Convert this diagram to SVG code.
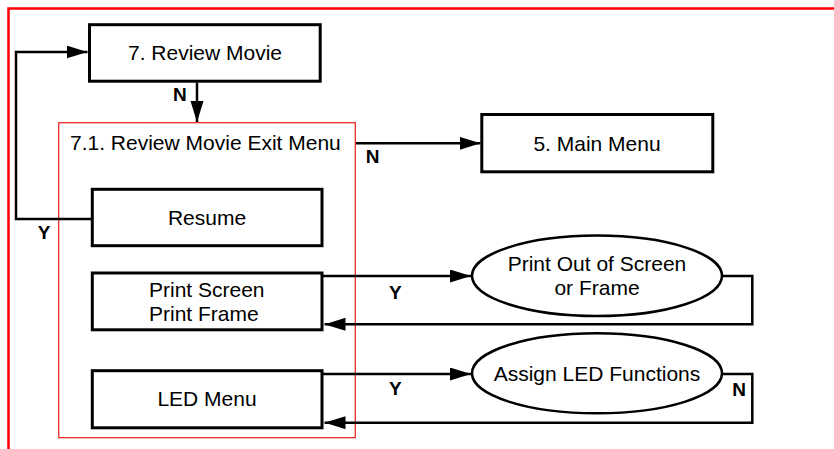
<svg xmlns="http://www.w3.org/2000/svg" width="834" height="449" viewBox="0 0 834 449">
<defs>
<style>
.box{fill:#fff;stroke:#000;stroke-width:3}
.ell{fill:#fff;stroke:#000;stroke-width:2.5}
.t{font-family:"Liberation Sans",Arial,sans-serif;font-size:21px;fill:#000}
.c{text-anchor:middle}
.lbl{font-family:"Liberation Sans",Arial,sans-serif;font-size:19px;font-weight:bold;fill:#000}
.ln{fill:none;stroke:#000;stroke-width:2.5;marker-end:url(#ah)}
.ln0{fill:none;stroke:#000;stroke-width:2.5}
</style>
<marker id="ah" markerUnits="userSpaceOnUse" markerWidth="21" markerHeight="14" refX="21" refY="6.5" orient="auto">
<path d="M0,0 L21,6.5 L0,13 z" fill="#000"/>
</marker>
</defs>
<rect width="834" height="449" fill="#fff"/>
<path d="M8.5,449 V8.5 H834" fill="none" stroke="#ff0000" stroke-width="2.5"/>
<g id="exit-menu">
<rect x="58.7" y="122.7" width="296.6" height="315" fill="none" stroke="#ee2a2a" stroke-width="1.3"/>
<text class="t" x="70" y="150">7.1. Review Movie Exit Menu</text>
</g>
<g id="connectors">
<path class="ln" d="M197,82.5 V122"/>
<path class="ln" d="M92,219 H16 V52 H87.5"/>
<path class="ln" d="M356,143.3 H480.5"/>
<path class="ln" d="M322,276 H471"/>
<path class="ln" d="M722,276 H752.3 V324.3 H324.5"/>
<path class="ln" d="M322,374 H471"/>
<path class="ln" d="M722,374 H752.3 V422.7 H324.5"/>
<text class="lbl" x="173" y="100.7">N</text>
<text class="lbl" x="365.7" y="163.3">N</text>
<text class="lbl" x="37.7" y="239.3">Y</text>
<text class="lbl" x="389" y="299.3">Y</text>
<text class="lbl" x="389" y="395">Y</text>
<text class="lbl" x="732.3" y="396">N</text>
</g>
<g id="review-movie">
<rect class="box" x="89.5" y="24.7" width="230.7" height="56.5"/>
<text class="t c" x="205" y="60">7. Review Movie</text>
</g>
<g id="main-menu">
<rect class="box" x="481.8" y="114.5" width="231" height="57.3"/>
<text class="t c" x="597" y="150.7">5. Main Menu</text>
</g>
<g id="resume">
<rect class="box" x="92.3" y="189.3" width="229.7" height="56.4"/>
<text class="t c" x="207" y="225">Resume</text>
</g>
<g id="print-screen">
<rect class="box" x="92.3" y="273" width="229.7" height="56.8"/>
<text class="t" x="149" y="296.7">Print Screen</text>
<text class="t" x="149" y="320.7">Print Frame</text>
</g>
<g id="led-menu">
<rect class="box" x="92.3" y="370.7" width="229.7" height="57.1"/>
<text class="t c" x="207" y="406">LED Menu</text>
</g>
<g id="print-out">
<ellipse class="ell" cx="597" cy="275.8" rx="125" ry="40.2"/>
<text class="t c" x="597" y="270.7">Print Out of Screen</text>
<text class="t c" x="597" y="295.3">or Frame</text>
</g>
<g id="assign-led">
<ellipse class="ell" cx="597" cy="373.3" rx="125" ry="40"/>
<text class="t c" x="597" y="381">Assign LED Functions</text>
</g>
</svg>
